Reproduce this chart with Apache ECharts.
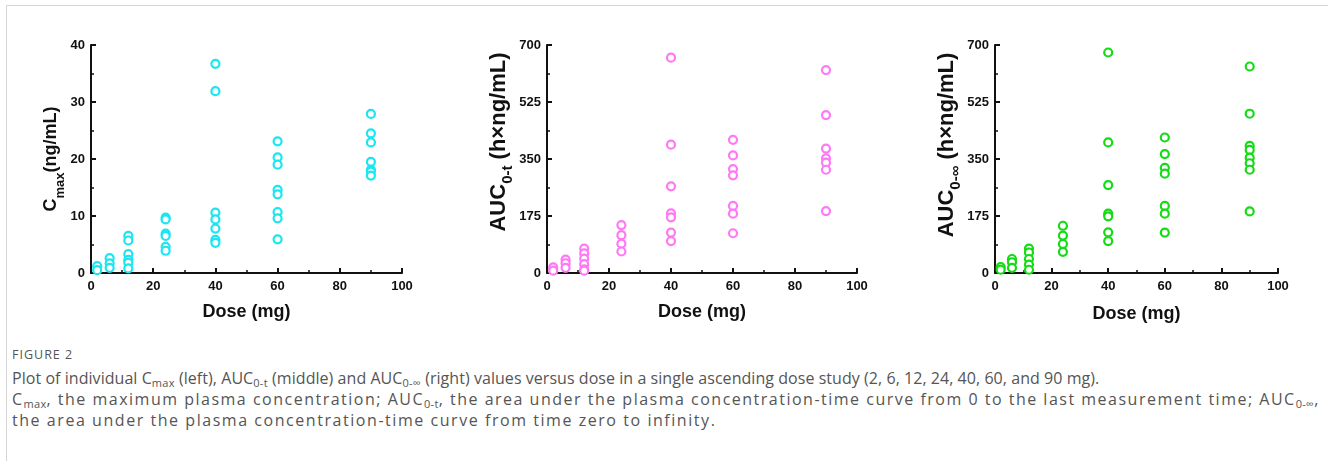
<!DOCTYPE html>
<html>
<head>
<meta charset="utf-8">
<title>Figure 2</title>
<script src="https://cdn.jsdelivr.net/npm/echarts@6/dist/echarts.min.js"></script>
<style>
body { margin:0; background:#fff; }
#frame { position:absolute; left:6px; top:5px; width:1322px; height:456px; border-left:1px solid #d6d6d6; border-top:1px solid #d6d6d6; }
#main { position:absolute; left:0; top:0; width:1328px; height:340px; }
#caption { position:absolute; left:12px; top:347px; width:1316px; font-family:"Open Sans", sans-serif; color:#555; white-space:nowrap; }
#caption .fig { font-size:12.5px; letter-spacing:1px; line-height:16px; }
#caption .txt { font-size:16px; line-height:21px; margin-top:5px; }
#caption .l1 { letter-spacing:0.05px; }
#caption .l2 { letter-spacing:1.5px; }
#caption .l3 { letter-spacing:1.55px; }
#caption sub { font-size:11px; line-height:0; vertical-align:-3px; letter-spacing:0.3px; }
</style>
</head>
<body>
<div id="frame"></div>
<div id="main"></div>
<div id="caption">
  <div class="fig">FIGURE 2</div>
  <div class="txt">
    <div class="l1">Plot of individual C<sub>max</sub> (left), AUC<sub>0-t</sub> (middle) and AUC<sub>0-∞</sub> (right) values versus dose in a single ascending dose study (2, 6, 12, 24, 40, 60, and 90 mg).</div>
    <div class="l2">C<sub>max</sub>, the maximum plasma concentration; AUC<sub>0-t</sub>, the area under the plasma concentration-time curve from 0 to the last measurement time; AUC<sub>0-∞</sub>,</div>
    <div class="l3">the area under the plasma concentration-time curve from time zero to infinity.</div>
  </div>
</div>
<script type="text/javascript">
// dose levels (mg)
var doses = [2, 6, 12, 24, 40, 60, 90];

// individual values, one list per dose level
var cmax = [
    [1.2, 0.5],
    [2.6, 1.7, 0.9],
    [6.5, 5.7, 3.3, 2.3, 1.8, 0.8],
    [9.7, 9.4, 6.9, 6.5, 4.6, 3.9],
    [36.7, 31.9, 10.6, 9.4, 7.8, 5.8, 5.3],
    [23.1, 20.3, 19.0, 14.6, 13.8, 10.7, 9.6, 5.9],
    [27.9, 24.5, 22.9, 19.5, 18.1, 17.8, 17.1]
];
var auc0t = [
    [17, 7],
    [41, 30, 16],
    [75, 60, 44, 27, 11, 7],
    [147, 116, 90, 66],
    [661, 394, 266, 183, 171, 124, 98],
    [409, 361, 319, 300, 206, 182, 122],
    [623, 485, 382, 352, 339, 317, 190]
];
var auc0inf = [
    [18, 10],
    [43, 33, 16],
    [75, 63, 43, 26, 10],
    [145, 115, 89, 65],
    [677, 401, 270, 182, 174, 125, 98],
    [416, 365, 323, 305, 206, 182, 124],
    [634, 489, 390, 378, 354, 337, 317, 189]
];

function pairs(vals) {
    var out = [];
    for (var i = 0; i < doses.length; i++) {
        for (var j = 0; j < vals[i].length; j++) {
            out.push([doses[i], vals[i][j]]);
        }
    }
    return out;
}

var font = 'Liberation Sans, Arial, sans-serif';
var axisLine = {show: true, onZero: false, lineStyle: {color: '#111', width: 2}};
var axisTick = {show: true, inside: true, length: 5, lineStyle: {color: '#111', width: 2}};
var minorTick = {show: true, splitNumber: 2, length: 3, lineStyle: {color: '#111', width: 1.5}};

function xAxis(idx, gap) {
    return {
        gridIndex: idx, type: 'value', min: 0, max: 100, interval: 20,
        name: 'Dose (mg)', nameLocation: 'middle', nameGap: gap,
        nameTextStyle: {color: '#111', fontSize: 18, fontWeight: 'bold', fontFamily: font},
        axisLine: axisLine, axisTick: axisTick, minorTick: minorTick,
        axisLabel: {color: '#111', fontSize: 13, fontWeight: 'bold', fontFamily: font, margin: 7},
        splitLine: {show: false}
    };
}

// shift: extra padding on the start side, moves the rotated title upwards
function yAxis(idx, max, interval, name, gap, size, subSize, shift) {
    return {
        gridIndex: idx, type: 'value', min: 0, max: max, interval: interval,
        name: name, nameLocation: 'middle', nameGap: gap, nameRotate: 90,
        nameTextStyle: {
            color: '#111', fontSize: size, fontWeight: 'bold', fontFamily: font,
            padding: [0, 0, 0, shift],
            rich: {
                m: {color: '#111', fontSize: size, fontWeight: 'bold', fontFamily: font, lineHeight: 22, verticalAlign: 'top'},
                s: {color: '#111', fontSize: subSize, fontWeight: 'bold', fontFamily: font, lineHeight: 14, verticalAlign: 'top', padding: [12, 0, 0, 0]}
            }
        },
        axisLine: axisLine, axisTick: axisTick, minorTick: minorTick,
        axisLabel: {color: '#111', fontSize: 13, fontWeight: 'bold', fontFamily: font, margin: 6},
        splitLine: {show: false}
    };
}

function scatter(idx, vals, color) {
    return {
        type: 'scatter', xAxisIndex: idx, yAxisIndex: idx,
        data: pairs(vals), symbol: 'circle', symbolSize: 8,
        itemStyle: {color: '#fff', borderColor: color, borderWidth: 2.2, opacity: 1},
        emphasis: {disabled: true}
    };
}

var chart = echarts.init(document.getElementById('main'), null, {renderer: 'canvas'});
chart.setOption({
    animation: false,
    grid: [
        {left: 91, top: 45, width: 311, height: 228},
        {left: 547, top: 45, width: 310, height: 228},
        {left: 995, top: 45, width: 283, height: 228}
    ],
    xAxis: [xAxis(0, 30), xAxis(1, 30), xAxis(2, 32)],
    yAxis: [
        yAxis(0, 40, 10, '{m|C}{s|max}{m|(ng/mL)}', 27, 18, 13, 0),
        yAxis(1, 700, 175, '{m|AUC}{s|0-t}{m| (h×ng/mL)}', 31, 22, 15, 34),
        yAxis(2, 700, 175, '{m|AUC}{s|0-∞}{m| (h×ng/mL)}', 33, 22, 15, 28)
    ],
    series: [
        scatter(0, cmax, '#19e6f0'),
        scatter(1, auc0t, '#ff78f5'),
        scatter(2, auc0inf, '#14dc14')
    ]
});
</script>
</body>
</html>
